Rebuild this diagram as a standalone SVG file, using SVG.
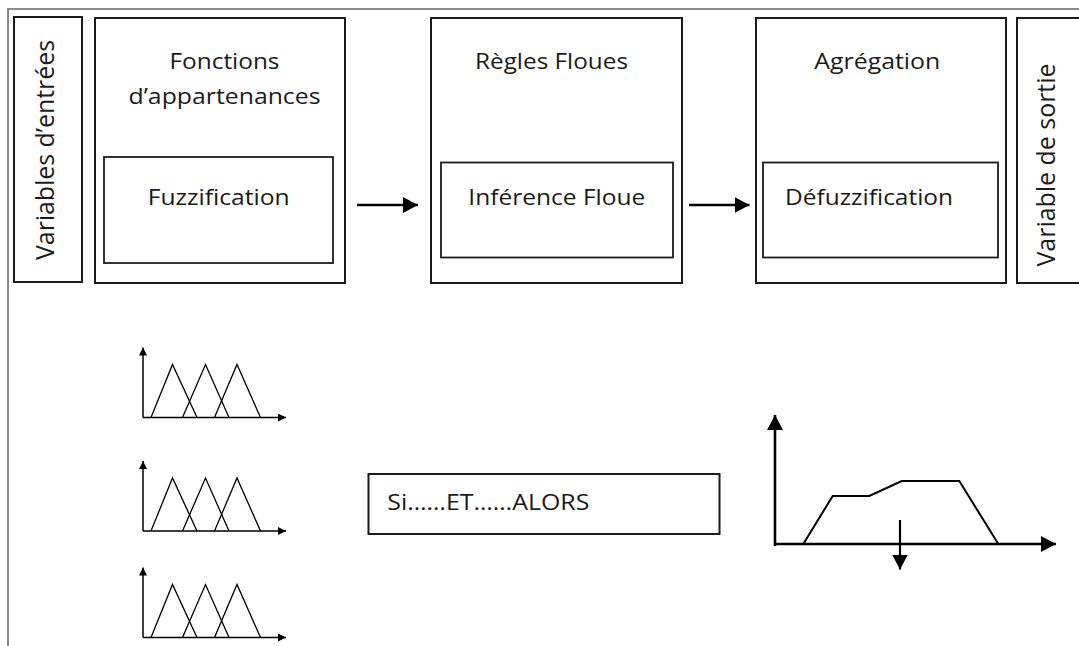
<svg xmlns="http://www.w3.org/2000/svg" width="1079" height="646" viewBox="0 0 1079 646">
  <defs>
    <style>
      .frame { fill: none; stroke: #8a8a8a; stroke-width: 2; }
      .box { fill: #ffffff; stroke: #1c1c1c; stroke-width: 2; }
      .inner { fill: #ffffff; stroke: #1c1c1c; stroke-width: 1.8; }
      .lbl { font-family: "Open Sans", "Liberation Sans", sans-serif; font-size: 21px; fill: #1a1a1a; }
      .vlbl { font-family: "Open Sans", "Liberation Sans", sans-serif; font-size: 25px; fill: #1a1a1a; }
      .flow { fill: none; stroke: #000000; stroke-width: 2.5; marker-end: url(#head-lg); }
      .axis { fill: none; stroke: #000000; stroke-width: 1.5; marker-end: url(#head-sm); }
      .mf { fill: none; stroke: #000000; stroke-width: 1.3; }
      .axis-lg { fill: none; stroke: #000000; stroke-width: 2.6; marker-end: url(#head-lg); }
      .curve { fill: none; stroke: #000000; stroke-width: 2; }
    </style>
    <marker id="head-lg" viewBox="0 0 15 16" markerWidth="15" markerHeight="16" refX="15" refY="8" markerUnits="userSpaceOnUse" orient="auto">
      <path d="M0,0 L15,8 L0,16 Z" fill="#000000"/>
    </marker>
    <marker id="head-sm" viewBox="0 0 8 8" markerWidth="8" markerHeight="8" refX="8" refY="4" markerUnits="userSpaceOnUse" orient="auto">
      <path d="M0,0 L8,4 L0,8 Z" fill="#000000"/>
    </marker>
    <!-- one membership-function chart: three overlapping triangles on axes -->
    <g id="mf-set">
      <path class="axis" d="M143,0 L143,-70"/>
      <path class="axis" d="M143,0 L286,0"/>
      <path class="mf" d="M151,0 L172.5,-53 L197,0"/>
      <path class="mf" d="M182.5,0 L205.5,-53 L229,0"/>
      <path class="mf" d="M214.5,0 L237,-53 L260.5,0"/>
    </g>
  </defs>

  <rect width="1079" height="646" fill="#ffffff"/>

  <!-- surrounding frame (top and left edges) -->
  <path class="frame" d="M1079,9 L8,9 L8,646"/>

  <g id="input-vars">
    <rect class="box" x="14" y="17" width="68" height="265"/>
    <text class="vlbl" transform="translate(53.5,260) rotate(-90)" textLength="220" lengthAdjust="spacingAndGlyphs">Variables d’entrées</text>
  </g>

  <g id="fuzzification">
    <rect class="box" x="95" y="18" width="250" height="265"/>
    <text class="lbl" x="169.5" y="68.5" textLength="110" lengthAdjust="spacingAndGlyphs">Fonctions</text>
    <text class="lbl" x="128.5" y="104" textLength="192" lengthAdjust="spacingAndGlyphs">d’appartenances</text>
    <rect class="inner" x="104" y="157" width="229" height="106"/>
    <text class="lbl" x="147.7" y="205" textLength="142" lengthAdjust="spacingAndGlyphs">Fuzzification</text>
  </g>

  <g id="inference">
    <rect class="box" x="431" y="18" width="251" height="265"/>
    <text class="lbl" x="475" y="68.5" textLength="153" lengthAdjust="spacingAndGlyphs">Règles Floues</text>
    <rect class="inner" x="441" y="162.5" width="232" height="95"/>
    <text class="lbl" x="468.3" y="204.5" textLength="177" lengthAdjust="spacingAndGlyphs">Inférence Floue</text>
  </g>

  <g id="defuzzification">
    <rect class="box" x="756" y="18" width="250" height="265"/>
    <text class="lbl" x="814.3" y="68.5" textLength="126" lengthAdjust="spacingAndGlyphs">Agrégation</text>
    <rect class="inner" x="763" y="162.5" width="235" height="95"/>
    <text class="lbl" x="785" y="204.5" textLength="168" lengthAdjust="spacingAndGlyphs">Défuzzification</text>
  </g>

  <g id="output-var">
    <rect class="box" x="1017" y="18" width="70" height="265"/>
    <text class="vlbl" transform="translate(1054.5,266.5) rotate(-90)" textLength="203" lengthAdjust="spacingAndGlyphs">Variable de sortie</text>
  </g>

  <g id="connectors">
    <path class="flow" d="M357,205 L418,205"/>
    <path class="flow" d="M689,205 L749.5,205"/>
  </g>

  <g id="mf-chart-1" transform="translate(0,417.5)">
    <use href="#mf-set"/>
  </g>
  <g id="mf-chart-2" transform="translate(0,531)">
    <use href="#mf-set"/>
  </g>
  <g id="mf-chart-3" transform="translate(0,637.5)">
    <use href="#mf-set"/>
  </g>

  <g id="rules">
    <rect class="box" x="368.5" y="474" width="351" height="60"/>
    <text class="lbl" x="387.3" y="510" font-size="22" textLength="202" lengthAdjust="spacingAndGlyphs">Si……ET……ALORS</text>
  </g>

  <g id="output-chart">
    <path class="axis-lg" d="M775,546 L775,415"/>
    <path class="axis-lg" d="M775,544 L1056,544"/>
    <polyline class="curve" points="803.3,544 832.7,496 869.3,496 901.7,481 959.3,481 998.3,544"/>
    <path class="axis-lg" d="M900,520 L900,569.5" style="stroke-width:2.2"/>
  </g>
</svg>
